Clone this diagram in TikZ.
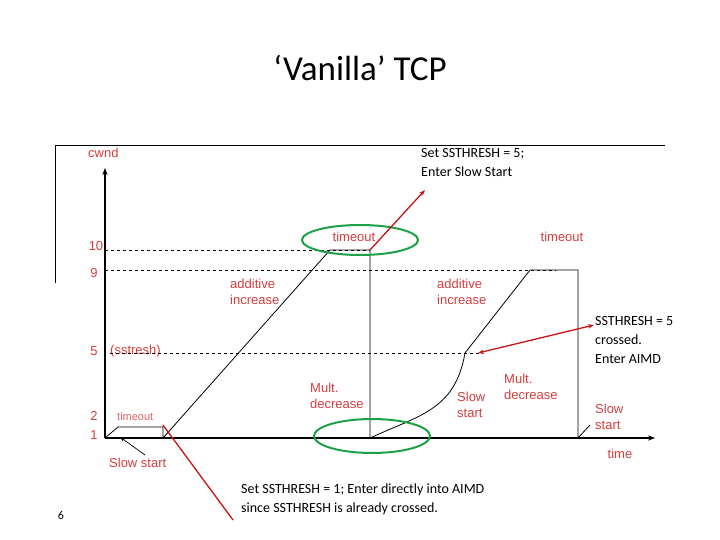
\documentclass[tikz,border=0pt]{standalone}
\usepackage{fontspec}
\setmainfont{Carlito}
\newfontfamily\arialf{Liberation Sans}
\usetikzlibrary{arrows.meta}
\definecolor{lbl}{RGB}{215,60,60}
\definecolor{arr}{RGB}{200,20,20}
\definecolor{ell}{RGB}{30,160,70}
\begin{document}
\begin{tikzpicture}[x=1pt,y=-1pt,
  rl/.style={text=lbl,font=\arialf\fontsize{13}{16}\selectfont,align=left,inner sep=0pt},
  ann/.style={font=\fontsize{14}{19}\selectfont,align=left,inner sep=0pt,anchor=north west},
  dsh/.style={dashed,line width=0.7pt},
  ra/.style={arr,line width=1.3pt,-{Stealth[length=6pt]}},
  ge/.style={ell,line width=2pt}]
\useasboundingbox (0,0) rectangle (720,540);
\node (title) at (360,68) {\fontsize{35}{40}\selectfont ‘Vanilla’ TCP};
\draw[line width=0.7pt] (55,283) -- (55,145) -- (665,145);
% axes
\coordinate (o) at (105,438);
\coordinate (ytop) at (105,168);
\coordinate (xend) at (655,438);
\draw[line width=1.3pt,-{Stealth[length=7pt]}] (o) -- (ytop);
\draw[line width=1.3pt,-{Stealth[length=7pt]}] (o) -- (xend);
\node[rl,anchor=west] (cwnd) at (88,153) {cwnd};
\node[rl] (time) at (620,454) {time};
\node[rl] (l10) at (96,246) {10};
\node[rl] (l9) at (94,273) {9};
\node[rl] (l5) at (94,351) {5};
\node[rl] (l2) at (94,416) {2};
\node[rl] (l1) at (94,435) {1};
\node[rl,anchor=west] (ss) at (110,351) {(sstresh)};
% dashed levels
\draw[dsh] (105,250) -- (370,250);
\draw[dsh] (105,270) -- (556,270);
\draw[dsh] (110,353) -- (483,353);
% cwnd trace
\draw[line width=0.8pt] (o) -- (118,427) -- (163,427) -- (163,438) -- (330,250) -- (370,250) -- (370,438)
  .. controls (420,415) and (455,410) .. (465,353) -- (530,270) -- (578,270) -- (578,438) -- (590,425);
% red labels
\node[rl,anchor=west,text=lbl!80] (to1) at (117,417) {\fontsize{11}{12}\selectfont timeout};
\node[rl,anchor=center] (to2) at (354,237) {timeout};
\node[rl,anchor=center] (to3) at (562,237) {timeout};
\node[rl,anchor=west] (ai1) at (230,292) {additive\\increase};
\node[rl,anchor=west] (ai2) at (437,292) {additive\\increase};
\node[rl,anchor=west] (md1) at (310,396) {Mult.\\decrease};
\node[rl,anchor=west] (ss2) at (457,405) {Slow\\start};
\node[rl,anchor=west] (md2) at (504,387) {Mult.\\decrease};
\node[rl,anchor=west] (ss3) at (595,417) {Slow\\start};
\node[rl,anchor=west] (ss1) at (109,463) {Slow start};
\draw[-{Stealth[length=5pt]},line width=0.7pt] (145,455) -- (120,437);
% ellipses
\draw[ge] (360,240) ellipse (58 and 15);
\draw[ge] (372,436) ellipse (58 and 17);
% annotations
\node[ann] (a1) at (421,148) {Set SSTHRESH = 5;\\Enter Slow Start};
\node[ann] (a2) at (595,316) {SSTHRESH = 5\\crossed.\\Enter AIMD};
\node[ann] (a3) at (241,484) {Set SSTHRESH = 1; Enter directly into AIMD\\since SSTHRESH is already crossed.};
\node (pg) at (61,515) {\fontsize{12}{14}\selectfont 6};
\coordinate (p1) at (370,250);
\coordinate (p2) at (478,353);
\coordinate (p3) at (163,425);
\coordinate (p4) at (233,520);
\draw[ra] (p1) -- (425,190);
\draw[ra,{Stealth[length=6pt]}-{Stealth[length=6pt]}] (p2) -- (594,325);
\draw[arr,line width=1.3pt] (p3) -- (p4);
\end{tikzpicture}
\end{document}
